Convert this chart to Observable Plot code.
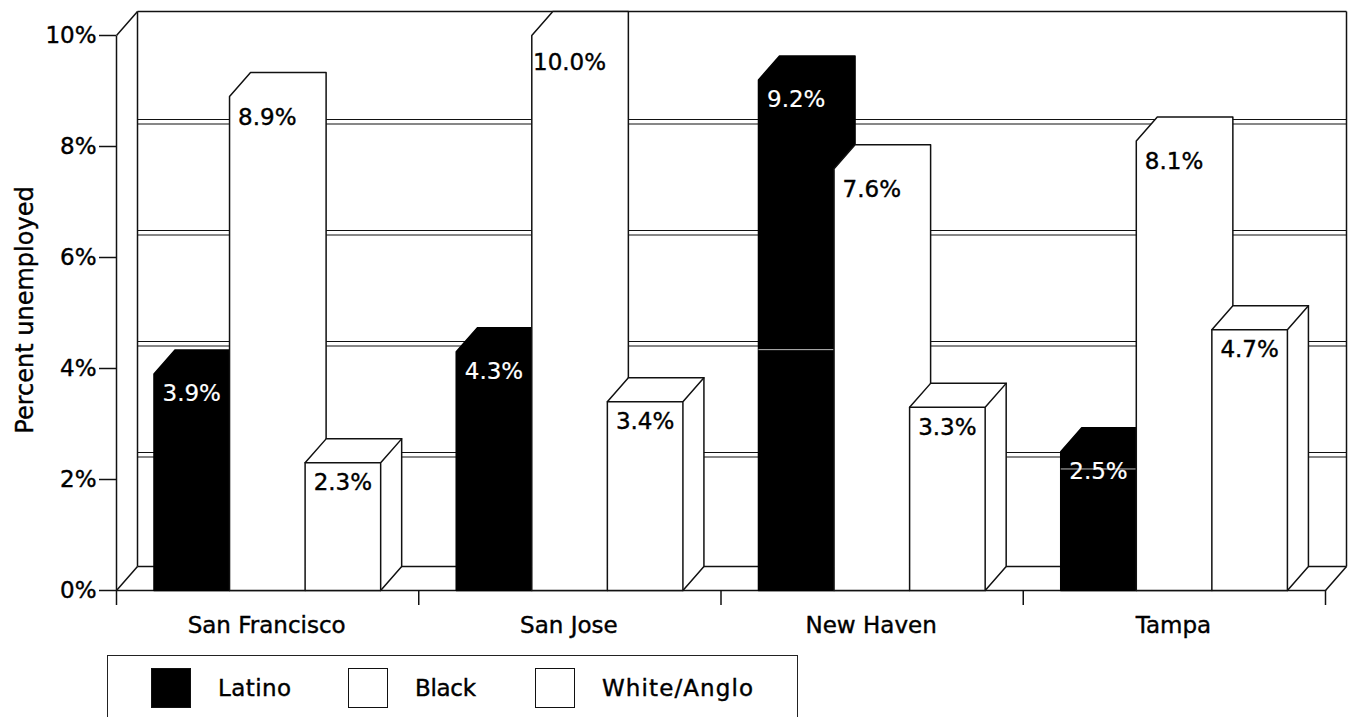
<!DOCTYPE html>
<html>
<head>
<meta charset="utf-8">
<script src="https://cdn.jsdelivr.net/npm/d3@7"></script>
<script src="https://cdn.jsdelivr.net/npm/@observablehq/plot@0.6"></script>
<style>
  html, body { margin: 0; padding: 0; background: #fff; overflow: hidden; }
  #chart svg { display: block; }
  #chart text { stroke: #000; stroke-width: 0.4px; }
  #chart g[fill="#fff"] text { stroke: #fff; stroke-width: 0.2px; }
  .legend { position: relative; box-sizing: border-box; margin: 5px 0 0 107px; width: 691px; height: 70px;
    border: 1.5px solid #222; border-bottom: none; font: 23px "DejaVu Sans", sans-serif; color: #000;
    -webkit-text-stroke: 0.4px #000; }
  .legend i { position: absolute; top: 12px; width: 40px; height: 40px; box-sizing: border-box; border: 1.5px solid #111; }
  .legend span { position: absolute; top: 20px; line-height: 24px; white-space: nowrap; }
</style>
</head>
<body>
<div id="chart"></div>
<div class="legend">
  <i style="left:43px;background:#000"></i><span style="left:110px;letter-spacing:0.4px">Latino</span>
  <i style="left:240px;background:#fff"></i><span style="left:307px;letter-spacing:-0.3px">Black</span>
  <i style="left:427px;background:#fff"></i><span style="left:494px;letter-spacing:1.1px">White/Anglo</span>
</div>
<script>
// Unemployment rates, percent, by city and group
const cities = ["San Francisco", "San Jose", "New Haven", "Tampa"];
const latino = [3.9, 4.3, 9.2, 2.5];
const black = [8.9, 10.0, 7.6, 8.1];
const white = [2.3, 3.4, 3.3, 4.7];
const yTicks = [0, 2, 4, 6, 8, 10];
const xBoundaries = [0, 1, 2, 3, 4];
const yTitle = "Percent unemployed";

// Hairline seams crossing the dark faces: city index and level
const seamCities = [2, 3];
const seamLevels = [4.34, 2.19];

// Pseudo-3D projection, expressed in the units of the two scales
const depthX = 0.0695;
const depthY = 0.432;
const barWidth = 0.25;
const groupPad = 0.124;

const barLeft = (city, slot) => city + groupPad + slot * barWidth;

// Outline of a whole bar: front face plus the top and side faces behind it
function silhouette(values, slot) {
  return values.flatMap((v, c) => {
    const x0 = barLeft(c, slot), x1 = x0 + barWidth;
    return [
      [x0, 0], [x0, v], [x0 + depthX, v + depthY], [x1 + depthX, v + depthY],
      [x1 + depthX, depthY], [x1, 0], [x0, 0]
    ].map(([x, y]) => ({x, y, z: c}));
  });
}

// Inner edges separating the front face from the top and side
function innerEdges(values, slot) {
  return values.flatMap((v, c) => {
    const x0 = barLeft(c, slot), x1 = x0 + barWidth;
    return [[x0, v], [x1, v], [x1 + depthX, v + depthY], [x1, v], [x1, 0]]
      .map(([x, y]) => ({x, y, z: c}));
  });
}

const labels = (values, slot) => values.map((v, c) => ({
  x: barLeft(c, slot) + barWidth / 2, y: v, text: v.toFixed(1) + "%"
}));

const ink = "#111";
const edge = {x: "x", y: "y", z: "z", curve: "linear", stroke: ink, strokeWidth: 1.5};
const wallTop = 10 + depthY;
const wallRight = 4 + depthX;

// Walls and floor of the box
const boxEdges = [
  [depthX, depthY, depthX, wallTop],
  [depthX, wallTop, wallRight, wallTop],
  [wallRight, depthY, wallRight, wallTop],
  [depthX, depthY, wallRight, depthY],
  [0, 0, depthX, depthY],
  [0, 10, depthX, wallTop],
  [4, 0, wallRight, depthY],
  [0, 0, 4, 0],
  [0, 0, 0, 10]
].map(([x1, y1, x2, y2]) => ({x1, y1, x2, y2}));

const gridLevels = yTicks.filter(d => d > 0 && d < 10);
const gridRule = (dy) => Plot.link(gridLevels, {
  x1: depthX, x2: wallRight,
  y1: d => d + depthY, y2: d => d + depthY,
  stroke: ink, strokeWidth: 1.2, dy
});

const valueText = (rows, fill, dy) => Plot.text(rows, {
  x: "x", y: "y", text: "text", fill, dy, lineAnchor: "middle", fontSize: 23
});

const chart = Plot.plot({
  width: 1351,
  height: 650,
  marginTop: 35,
  marginBottom: 60,
  marginLeft: 116,
  marginRight: 26,
  style: {fontFamily: "'DejaVu Sans', sans-serif", fontSize: "23px", color: "#000", background: "#fff"},
  x: {domain: [0, 4], axis: null},
  y: {domain: [0, 10], axis: null},
  marks: [
    gridRule(-3),
    gridRule(1.5),
    Plot.link(boxEdges, {x1: "x1", y1: "y1", x2: "x2", y2: "y2", stroke: ink, strokeWidth: 1.5}),

    Plot.axisY({
      ticks: yTicks, tickSize: 17, tickPadding: 3, strokeWidth: 1.5, stroke: ink,
      tickFormat: d => d + "%", label: null
    }),
    Plot.text([yTitle], {
      frameAnchor: "left", textAnchor: "middle", rotate: -90, text: d => d,
      dx: -91, dy: -3, lineAnchor: "middle", fontSize: 24
    }),
    Plot.axisX({
      ticks: xBoundaries, tickSize: 15, tickFormat: () => "", strokeWidth: 1.5, stroke: ink, label: null
    }),
    Plot.text(cities, {
      x: (d, i) => i + 0.5, y: () => 0, text: d => d, dy: 35, dx: -1, lineAnchor: "middle", fontSize: 23
    }),

    // Bars, painted back to front within each city
    Plot.line(silhouette(latino, 0), {...edge, fill: "#000", stroke: "#000"}),
    Plot.link(seamCities, {
      x1: d => barLeft(d, 0), x2: d => barLeft(d, 1),
      y1: (d, i) => seamLevels[i], y2: (d, i) => seamLevels[i],
      stroke: "#bbb", strokeWidth: 1
    }),
    Plot.line(silhouette(black, 1), {...edge, fill: "#fff"}),
    Plot.line(silhouette(white, 2), {...edge, fill: "#fff"}),
    Plot.line(innerEdges(white, 2), {...edge, fill: "none"}),

    valueText(labels(latino, 0), "#fff", 20),
    valueText(labels(black, 1).filter(d => d.y < 10), "#000", 21),
    valueText(labels(black, 1).filter(d => d.y >= 10), "#000", 27),
    valueText(labels(white, 2), "#000", 20)
  ]
});
document.getElementById("chart").append(chart);
</script>
</body>
</html>
